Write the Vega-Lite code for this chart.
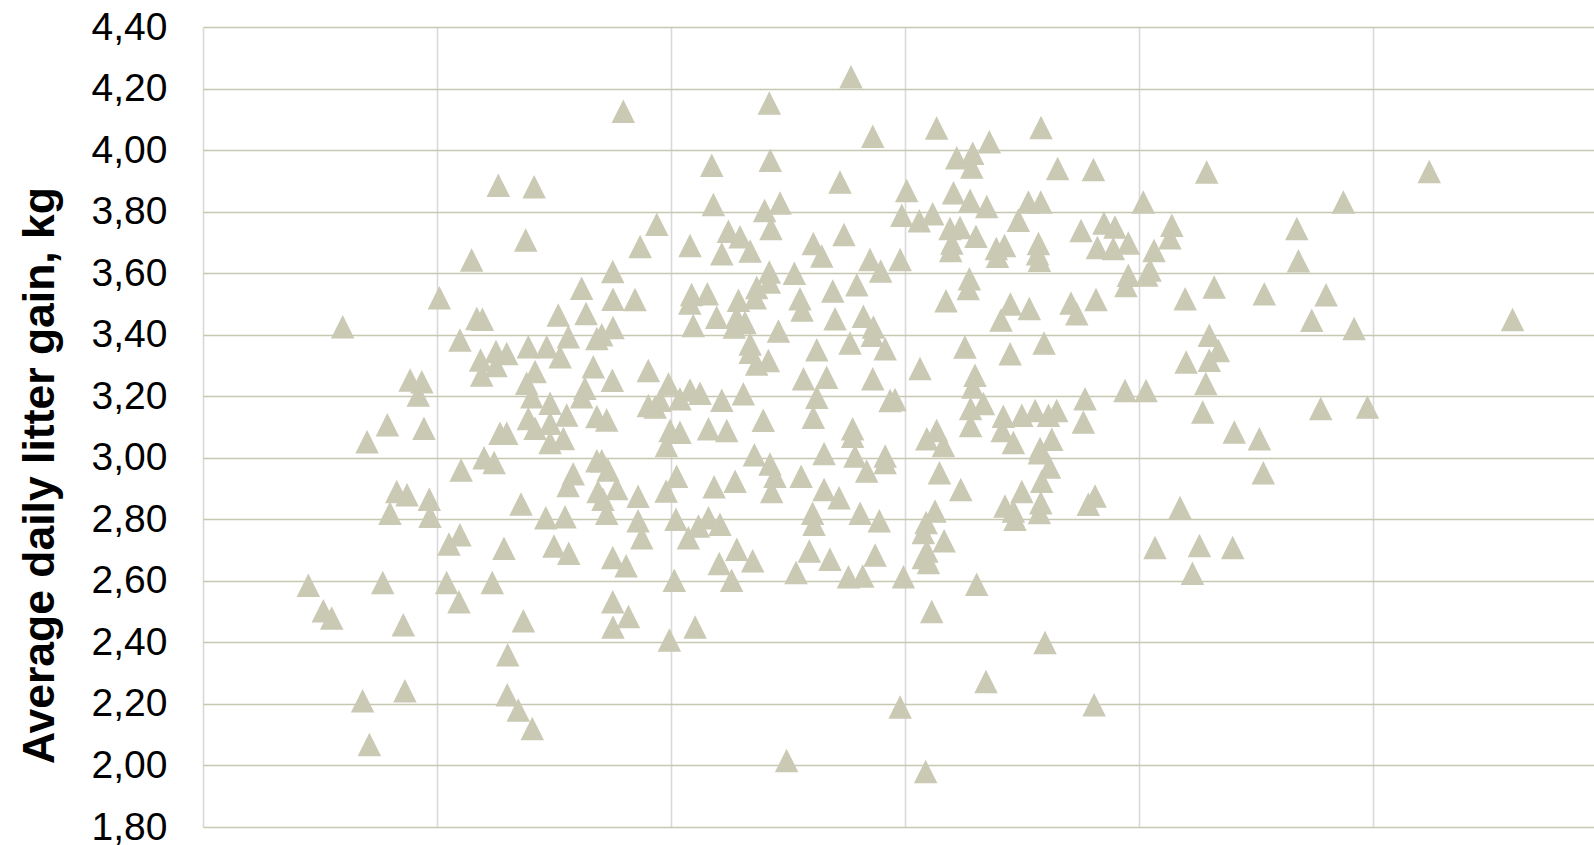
{
  "$schema": "https://vega.github.io/schema/vega-lite/v6.json",
  "autosize": {"type": "none"},
  "padding": {"left": 203, "top": 27, "right": 0, "bottom": 18},
  "width": 1391,
  "height": 800,
  "background": "#ffffff",
  "config": {"view": {"stroke": null}},
  "data": {
    "values": [
      {"x":0.45,"gain":2.586},{"x":0.514,"gain":2.503},{"x":0.55,"gain":2.479},{"x":0.597,"gain":3.426},{"x":0.682,"gain":2.21},{"x":0.711,"gain":2.068},{"x":0.701,"gain":3.052},{"x":0.768,"gain":2.595},{"x":0.788,"gain":3.107},{"x":0.799,"gain":2.82},{"x":0.828,"gain":2.89},{"x":0.856,"gain":2.457},{"x":0.863,"gain":2.243},{"x":0.872,"gain":2.88},{"x":0.885,"gain":3.253},{"x":0.935,"gain":3.247},{"x":0.92,"gain":3.204},{"x":0.944,"gain":3.096},{"x":0.967,"gain":2.865},{"x":0.97,"gain":2.81},
      {"x":1.01,"gain":3.52},{"x":1.148,"gain":3.643},{"x":1.262,"gain":3.886},{"x":1.415,"gain":3.881},{"x":1.379,"gain":3.708},{"x":1.17,"gain":3.453},{"x":1.194,"gain":3.45},{"x":1.098,"gain":3.383},{"x":1.618,"gain":3.551},{"x":1.518,"gain":3.464},{"x":1.637,"gain":3.469},{"x":1.751,"gain":3.605},{"x":1.752,"gain":3.515},{"x":1.752,"gain":3.423},{"x":1.561,"gain":3.393},{"x":1.683,"gain":3.388},{"x":1.704,"gain":3.4},{"x":1.39,"gain":3.361},{"x":1.469,"gain":3.361},{"x":1.526,"gain":3.328},{"x":1.186,"gain":3.318},{"x":1.252,"gain":3.345},{"x":1.298,"gain":3.339},{"x":1.252,"gain":3.3},{"x":1.191,"gain":3.269},{"x":1.419,"gain":3.28},{"x":1.383,"gain":3.242},{"x":1.668,"gain":3.296},{"x":1.749,"gain":3.252},{"x":1.632,"gain":3.226},{"x":1.618,"gain":3.198},{"x":1.405,"gain":3.198},{"x":1.483,"gain":3.177},{"x":1.554,"gain":3.139},{"x":1.39,"gain":3.128},{"x":1.419,"gain":3.096},{"x":1.483,"gain":3.112},{"x":1.683,"gain":3.134},{"x":1.725,"gain":3.123},{"x":1.269,"gain":3.08},{"x":1.298,"gain":3.08},{"x":1.54,"gain":3.063},{"x":1.483,"gain":3.05},
      {"x":1.103,"gain":2.96},{"x":1.201,"gain":3.0},{"x":1.244,"gain":2.985},{"x":1.051,"gain":2.72},{"x":1.098,"gain":2.75},{"x":1.286,"gain":2.706},{"x":1.359,"gain":2.85},{"x":1.465,"gain":2.805},{"x":1.547,"gain":2.808},{"x":1.5,"gain":2.713},{"x":1.563,"gain":2.69},{"x":1.582,"gain":2.948},{"x":1.56,"gain":2.91},{"x":1.683,"gain":2.99},{"x":1.704,"gain":2.99},{"x":1.731,"gain":2.96},{"x":1.688,"gain":2.89},{"x":1.768,"gain":2.9},{"x":1.709,"gain":2.865},{"x":1.725,"gain":2.82},{"x":1.859,"gain":2.875},{"x":1.859,"gain":2.795},{"x":1.875,"gain":2.74},{"x":1.751,"gain":2.676},{"x":1.808,"gain":2.649},{"x":1.041,"gain":2.595},{"x":1.094,"gain":2.532},{"x":1.236,"gain":2.595},{"x":1.369,"gain":2.47},{"x":1.751,"gain":2.532},{"x":1.818,"gain":2.484},{"x":1.752,"gain":2.45},{"x":1.302,"gain":2.36},{"x":1.3,"gain":2.23},{"x":1.347,"gain":2.18},{"x":1.407,"gain":2.12},
      {"x":2.769,"gain":4.238},{"x":1.796,"gain":4.126},{"x":2.42,"gain":4.153},{"x":3.135,"gain":4.072},{"x":2.862,"gain":4.045},{"x":2.174,"gain":3.951},{"x":2.424,"gain":3.967},{"x":2.722,"gain":3.896},{"x":3.36,"gain":4.027},{"x":3.221,"gain":3.975},{"x":3.289,"gain":3.99},{"x":3.285,"gain":3.945},{"x":3.007,"gain":3.869},{"x":2.181,"gain":3.823},{"x":2.4,"gain":3.804},{"x":2.466,"gain":3.828},{"x":3.207,"gain":3.861},{"x":3.278,"gain":3.837},{"x":3.349,"gain":3.817},{"x":1.939,"gain":3.759},{"x":1.868,"gain":3.687},{"x":2.081,"gain":3.69},{"x":2.245,"gain":3.736},{"x":2.295,"gain":3.718},{"x":2.427,"gain":3.745},{"x":2.217,"gain":3.663},{"x":2.338,"gain":3.672},{"x":2.608,"gain":3.696},{"x":2.644,"gain":3.656},{"x":2.739,"gain":3.726},{"x":2.986,"gain":3.788},{"x":3.061,"gain":3.77},{"x":3.118,"gain":3.793},{"x":3.192,"gain":3.745},{"x":3.235,"gain":3.748},{"x":3.2,"gain":3.698},{"x":3.195,"gain":3.674},{"x":3.303,"gain":3.72},{"x":3.39,"gain":3.68},{"x":3.425,"gain":3.69},{"x":3.395,"gain":3.655},{"x":2.85,"gain":3.644},{"x":2.896,"gain":3.607},{"x":2.979,"gain":3.644},{"x":2.42,"gain":3.604},{"x":2.42,"gain":3.571},{"x":2.527,"gain":3.6},{"x":2.366,"gain":3.553},{"x":2.36,"gain":3.52},{"x":2.088,"gain":3.531},{"x":2.155,"gain":3.533},{"x":2.08,"gain":3.503},{"x":1.846,"gain":3.514},{"x":2.288,"gain":3.512},{"x":2.28,"gain":3.457},{"x":2.195,"gain":3.457},{"x":2.316,"gain":3.44},{"x":2.27,"gain":3.425},{"x":2.551,"gain":3.517},{"x":2.56,"gain":3.48},{"x":2.691,"gain":3.542},{"x":2.794,"gain":3.562},{"x":2.701,"gain":3.452},{"x":2.822,"gain":3.46},{"x":2.865,"gain":3.425},{"x":2.86,"gain":3.398},{"x":2.459,"gain":3.412},{"x":3.275,"gain":3.582},{"x":3.27,"gain":3.55},{"x":3.175,"gain":3.51},{"x":3.41,"gain":3.448},{"x":3.45,"gain":3.5},{"x":2.095,"gain":3.43},{"x":2.338,"gain":3.37},{"x":2.338,"gain":3.343},{"x":2.366,"gain":3.305},{"x":2.416,"gain":3.316},{"x":2.623,"gain":3.351},{"x":2.765,"gain":3.373},{"x":2.915,"gain":3.354},{"x":3.256,"gain":3.36},{"x":3.064,"gain":3.29},{"x":3.299,"gain":3.268},{"x":3.29,"gain":3.23},{"x":3.335,"gain":3.176},{"x":3.28,"gain":3.16},{"x":3.28,"gain":3.105},{"x":3.42,"gain":3.135},{"x":3.415,"gain":3.089},{"x":3.449,"gain":3.338},{"x":1.903,"gain":3.284},{"x":1.989,"gain":3.24},{"x":1.953,"gain":3.187},{"x":1.903,"gain":3.17},{"x":1.932,"gain":3.165},{"x":2.038,"gain":3.192},{"x":2.081,"gain":3.22},{"x":2.124,"gain":3.21},{"x":2.217,"gain":3.187},{"x":2.309,"gain":3.208},{"x":2.566,"gain":3.257},{"x":2.665,"gain":3.262},{"x":2.623,"gain":3.197},{"x":2.608,"gain":3.132},{"x":2.862,"gain":3.257},{"x":2.936,"gain":3.186},{"x":2.957,"gain":3.189},{"x":2.394,"gain":3.122},{"x":2.776,"gain":3.094},{"x":2.776,"gain":3.07},{"x":1.996,"gain":3.089},{"x":2.038,"gain":3.083},{"x":2.16,"gain":3.094},{"x":2.238,"gain":3.089},{"x":3.093,"gain":3.062},{"x":3.135,"gain":3.089},{"x":1.98,"gain":3.04},
      {"x":3.581,"gain":4.073},{"x":3.652,"gain":3.94},{"x":3.805,"gain":3.937},{"x":4.289,"gain":3.929},{"x":3.527,"gain":3.831},{"x":3.58,"gain":3.831},{"x":4.018,"gain":3.831},{"x":4.873,"gain":3.831},{"x":3.484,"gain":3.772},{"x":3.752,"gain":3.739},{"x":3.85,"gain":3.763},{"x":3.897,"gain":3.75},{"x":4.14,"gain":3.756},{"x":4.132,"gain":3.715},{"x":4.674,"gain":3.745},{"x":3.57,"gain":3.696},{"x":3.566,"gain":3.663},{"x":3.574,"gain":3.642},{"x":3.822,"gain":3.683},{"x":3.89,"gain":3.68},{"x":3.954,"gain":3.698},{"x":4.064,"gain":3.674},{"x":4.047,"gain":3.61},{"x":4.033,"gain":3.594},{"x":4.681,"gain":3.64},{"x":3.954,"gain":3.593},{"x":3.944,"gain":3.56},{"x":3.531,"gain":3.485},{"x":3.709,"gain":3.503},{"x":3.734,"gain":3.468},{"x":3.816,"gain":3.514},{"x":4.197,"gain":3.517},{"x":4.321,"gain":3.555},{"x":4.535,"gain":3.533},{"x":4.799,"gain":3.53},{"x":4.738,"gain":3.447},{"x":4.919,"gain":3.42},{"x":3.594,"gain":3.373},{"x":4.3,"gain":3.398},{"x":4.339,"gain":3.349},{"x":4.201,"gain":3.311},{"x":4.3,"gain":3.317},{"x":4.285,"gain":3.241},{"x":3.94,"gain":3.219},{"x":4.03,"gain":3.219},{"x":3.769,"gain":3.192},{"x":3.762,"gain":3.116},{"x":4.272,"gain":3.149},{"x":4.407,"gain":3.084},{"x":4.514,"gain":3.062},{"x":4.776,"gain":3.16},{"x":4.976,"gain":3.165},{"x":3.499,"gain":3.138},{"x":3.556,"gain":3.154},{"x":3.613,"gain":3.138},{"x":3.648,"gain":3.154},{"x":3.463,"gain":3.05},{"x":3.627,"gain":3.06},{"x":3.577,"gain":3.03},
      {"x":2.024,"gain":2.94},{"x":1.979,"gain":2.892},{"x":2.021,"gain":2.8},{"x":2.074,"gain":2.74},{"x":2.117,"gain":2.778},{"x":2.16,"gain":2.805},{"x":2.209,"gain":2.784},{"x":2.184,"gain":2.906},{"x":2.274,"gain":2.924},{"x":2.356,"gain":3.01},{"x":2.423,"gain":2.98},{"x":2.444,"gain":2.94},{"x":2.43,"gain":2.89},{"x":2.556,"gain":2.94},{"x":2.654,"gain":3.014},{"x":2.654,"gain":2.897},{"x":2.718,"gain":2.87},{"x":2.605,"gain":2.82},{"x":2.611,"gain":2.784},{"x":2.786,"gain":3.006},{"x":2.836,"gain":2.957},{"x":2.915,"gain":3.006},{"x":2.915,"gain":2.985},{"x":2.808,"gain":2.82},{"x":2.89,"gain":2.795},{"x":2.591,"gain":2.697},{"x":2.679,"gain":2.67},{"x":2.872,"gain":2.684},{"x":2.758,"gain":2.613},{"x":2.819,"gain":2.616},{"x":2.534,"gain":2.627},{"x":2.281,"gain":2.703},{"x":2.349,"gain":2.665},{"x":2.206,"gain":2.656},{"x":2.259,"gain":2.602},{"x":2.014,"gain":2.602},{"x":2.103,"gain":2.45},{"x":1.993,"gain":2.408},{"x":2.993,"gain":2.613},{"x":3.147,"gain":2.951},{"x":3.238,"gain":2.897},{"x":3.128,"gain":2.827},{"x":3.078,"gain":2.757},{"x":3.167,"gain":2.73},{"x":3.078,"gain":2.676},{"x":3.1,"gain":2.66},{"x":3.093,"gain":2.697},{"x":3.09,"gain":2.79},{"x":3.306,"gain":2.589},{"x":3.114,"gain":2.5},{"x":3.346,"gain":2.273},{"x":2.979,"gain":2.19},{"x":2.494,"gain":2.016},{"x":3.088,"gain":1.98},{"x":3.164,"gain":3.04},
      {"x":3.574,"gain":3.016},{"x":3.617,"gain":2.97},{"x":3.584,"gain":2.924},{"x":3.499,"gain":2.89},{"x":3.427,"gain":2.843},{"x":3.463,"gain":2.827},{"x":3.47,"gain":2.8},{"x":3.58,"gain":2.854},{"x":3.574,"gain":2.822},{"x":3.783,"gain":2.849},{"x":3.812,"gain":2.876},{"x":4.175,"gain":2.838},{"x":4.068,"gain":2.708},{"x":4.258,"gain":2.715},{"x":4.4,"gain":2.708},{"x":4.228,"gain":2.625},{"x":4.531,"gain":2.951},{"x":3.598,"gain":2.4},{"x":3.808,"gain":2.197},
      {"x":5.24,"gain":3.93},{"x":5.596,"gain":3.449}
    ]
  },
  "mark": {
    "type": "point",
    "shape": "M-1,1L1,1L0,-1Z",
    "filled": true,
    "opacity": 1,
    "size": 552,
    "color": "#c9c9b4",
    "strokeWidth": 0
  },
  "encoding": {
    "x": {
      "field": "x",
      "type": "quantitative",
      "scale": {"domain": [0, 5.944], "nice": false, "zero": false},
      "axis": {
        "title": null,
        "labels": false,
        "ticks": false,
        "domain": false,
        "grid": true,
        "gridColor": "#d9d9d9",
        "gridWidth": 1.6,
        "values": [0, 1, 2, 3, 4, 5]
      }
    },
    "y": {
      "field": "gain",
      "type": "quantitative",
      "scale": {"domain": [1.8, 4.4], "nice": false, "zero": false},
      "axis": {
        "title": "Average daily litter gain, kg",
        "titleFont": "Liberation Sans",
        "titleFontSize": 44.5,
        "titleFontWeight": "bold",
        "titleColor": "#000000",
        "titleAngle": -90,
        "titleAlign": "center",
        "titleBaseline": "alphabetic",
        "titleX": -150,
        "titleY": 448,
        "values": [1.8, 2.0, 2.2, 2.4, 2.6, 2.8, 3.0, 3.2, 3.4, 3.6, 3.8, 4.0, 4.2, 4.4],
        "labelExpr": "replace(format(datum.value, '.2f'), '.', ',')",
        "labelFont": "Liberation Sans",
        "labelFontSize": 39,
        "labelColor": "#000000",
        "labelAlign": "right",
        "labelBaseline": "middle",
        "labelPadding": 36,
        "labelFlush": false,
        "labelOverlap": false,
        "ticks": false,
        "tickSize": 0,
        "domain": false,
        "grid": true,
        "gridColor": "#c8c7b1",
        "gridWidth": 1.6
      }
    }
  }
}
